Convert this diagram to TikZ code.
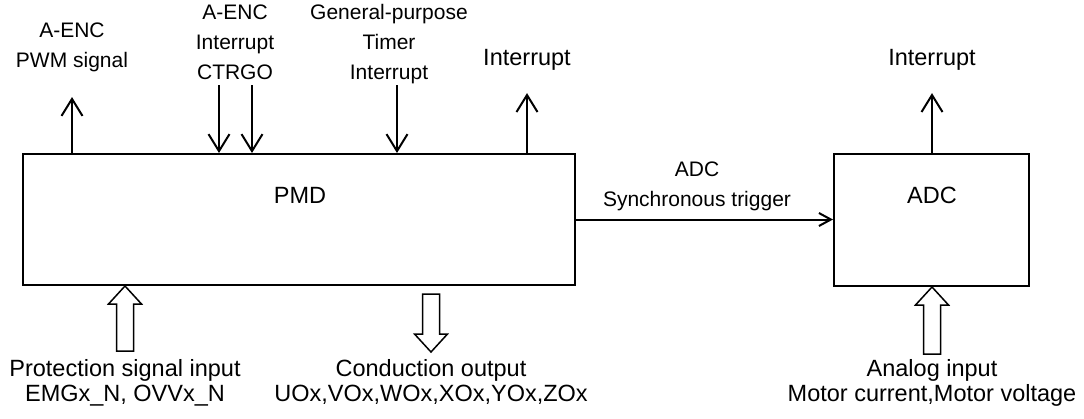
\documentclass[tikz,border=0pt]{standalone}
\usepackage{fontspec}
\setmainfont{Liberation Sans}
\usetikzlibrary{arrows.meta}
\tikzset{
    block/.style={draw=black,line width=2pt,inner sep=0pt},
    bigtxt/.style={inner sep=0pt,align=center,font=\fontsize{23.5pt}{25pt}\selectfont,
        execute at begin node=\strut,execute at end node=\strut},
    smalltxt/.style={inner sep=0pt,align=center,font=\fontsize{21pt}{30pt}\selectfont,
        execute at begin node=\strut,execute at end node=\strut},
    sig/.style={line width=2pt,-{Straight Barb[length=17pt,width=21pt]}},
    trig/.style={line width=2pt,-{Straight Barb[length=12pt,width=13pt]}},
    hollow/.style={draw=black,line width=1.5pt,line join=miter},
}
\begin{document}
\begin{tikzpicture}[x=1pt,y=-1pt]
    \useasboundingbox (0,0) rectangle (1084,418);
    \node[block,minimum width=552pt,minimum height=131pt] (PMD) at (299,219.5) {};
    \node[block,minimum width=195pt,minimum height=132pt] (ADC) at (931.5,220) {};
    \node[bigtxt] (pmdName) at (300,198) {PMD};
    \node[bigtxt] (adcName) at (932,198.5) {ADC};
    \node[smalltxt] (pwmLbl) at (72,50) {A-ENC\\PWM signal};
    \node[smalltxt] (encLbl) at (235,46.5) {A-ENC\\Interrupt\\CTRGO};
    \node[smalltxt] (timLbl) at (389,46.5) {General-purpose\\Timer\\Interrupt};
    \node[bigtxt] (pmdInt) at (527,60.4) {Interrupt};
    \node[bigtxt] (adcInt) at (932,60.4) {Interrupt};
    \node[smalltxt] (trigLbl) at (697,188.5) {ADC\\Synchronous trigger};
    \node[bigtxt] (protLbl) at (125,384.5) {Protection signal input\\EMGx\_N, OVVx\_N};
    \node[bigtxt] (condLbl) at (431,384.5) {Conduction output\\UOx,VOx,WOx,XOx,YOx,ZOx};
    \node[bigtxt] (anaLbl) at (932,384.5) {Analog input\\Motor current,Motor voltage};
    \coordinate (encA) at ([xshift=-16pt,yshift=3.5pt]encLbl.south);
    \coordinate (encB) at ([xshift=17pt,yshift=3.5pt]encLbl.south);
    \coordinate (timA) at ([xshift=8pt,yshift=3.5pt]timLbl.south);
    \draw[sig] (PMD.north -| pwmLbl) -- ([yshift=-20pt]pwmLbl.south);
    \draw[sig] (encA) -- (encA |- PMD.north);
    \draw[sig] (encB) -- (encB |- PMD.north);
    \draw[sig] (timA) -- (timA |- PMD.north);
    \draw[sig] (PMD.north -| pmdInt) -- ([yshift=-20pt]pmdInt.south);
    \draw[sig] (ADC.north -| adcInt) -- ([yshift=-20pt]adcInt.south);
    \draw[trig] (PMD.east) -- (PMD.east -| ADC.west);
    \draw[hollow] (protLbl |- PMD.south) -- ++(16.5,18) -- ++(-8,0) -- ++(0,47)
        -- ++(-17,0) -- ++(0,-47) -- ++(-8,0) -- cycle;
    \draw[hollow] (condLbl |- PMD.south) ++(-8.5,8) -- ++(17,0) -- ++(0,40) -- ++(8,0)
        -- ++(-16.5,18) -- ++(-16.5,-18) -- ++(8,0) -- cycle;
    \draw[hollow] (anaLbl |- ADC.south) -- ++(16.5,18) -- ++(-8,0) -- ++(0,49)
        -- ++(-17,0) -- ++(0,-49) -- ++(-8,0) -- cycle;
\end{tikzpicture}
\end{document}
